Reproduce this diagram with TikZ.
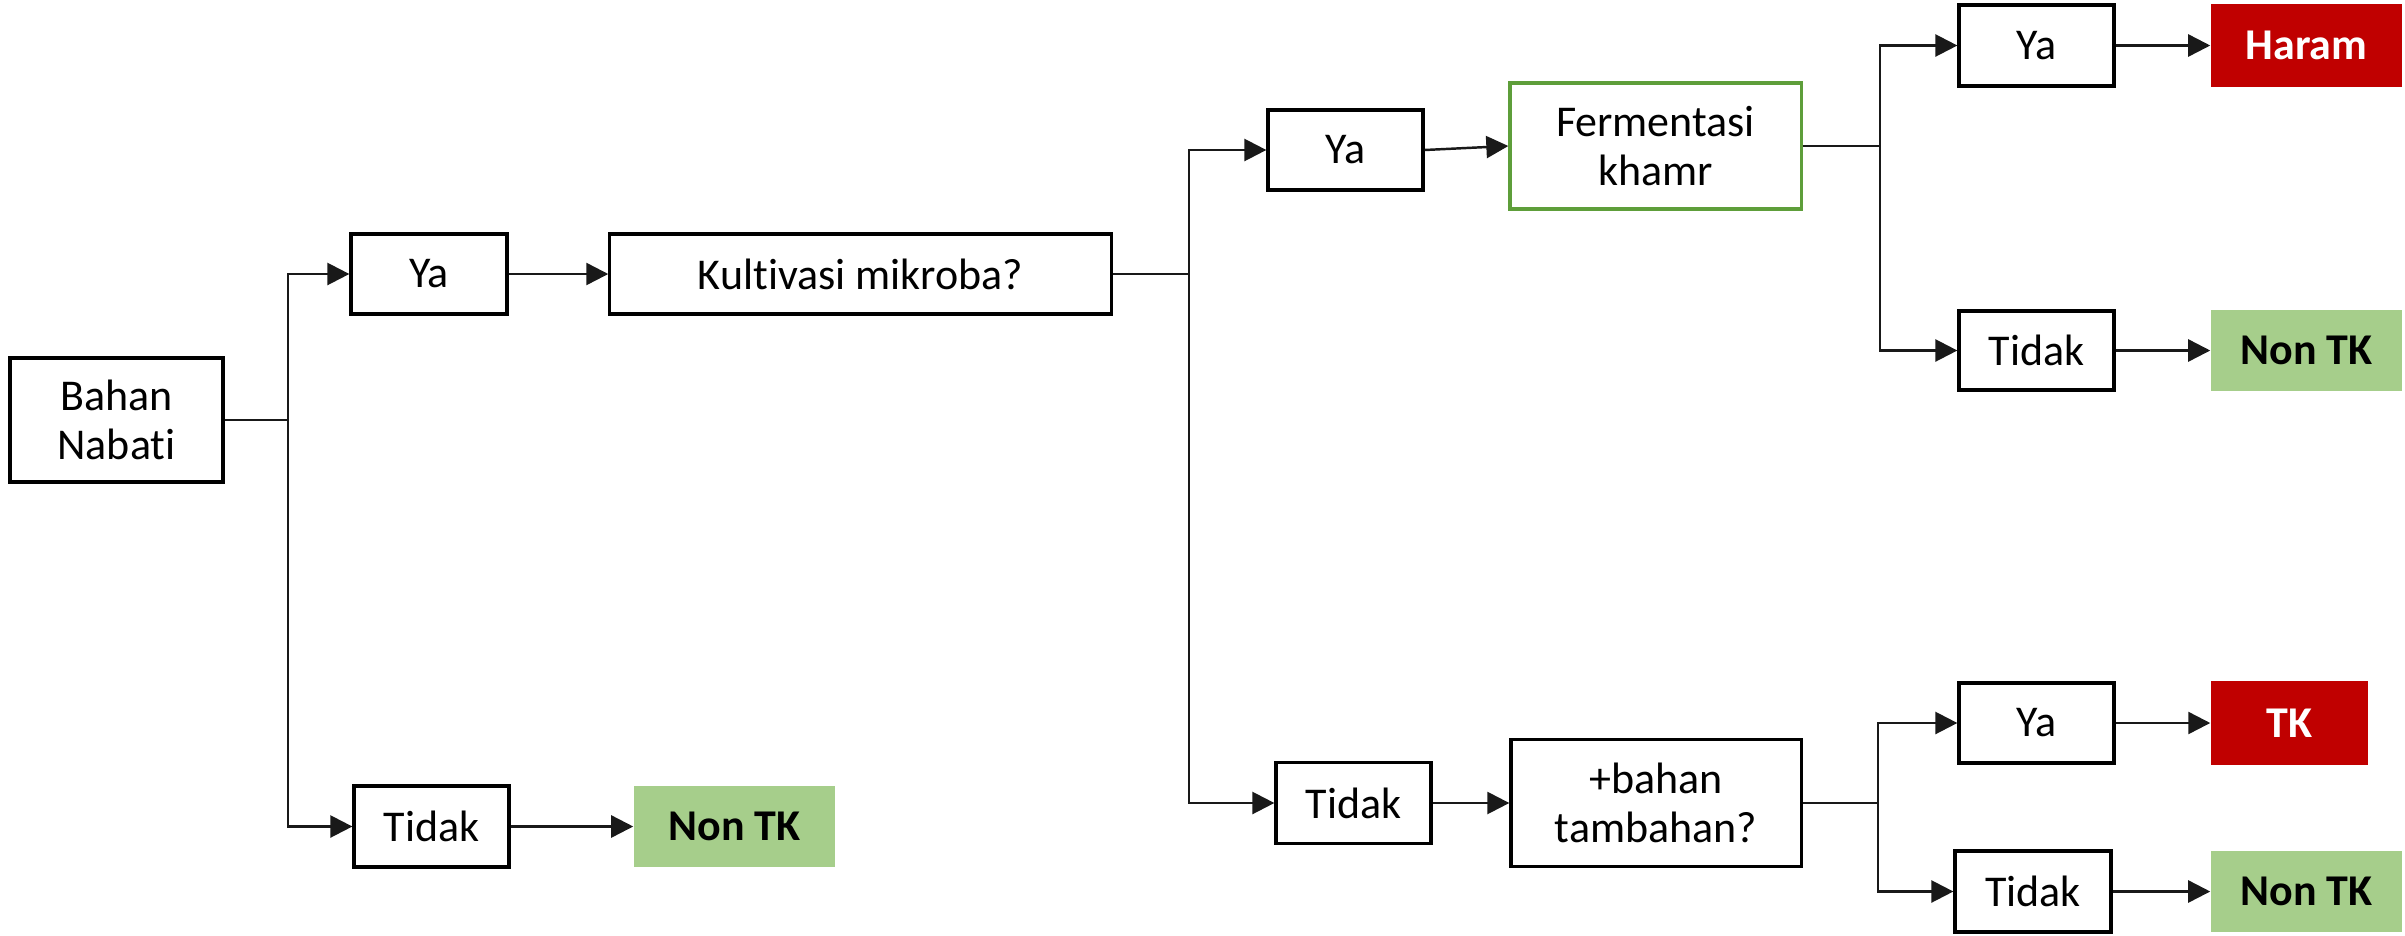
\documentclass[tikz,border=0pt]{standalone}
\usepackage{fontspec}
\setmainfont[Ligatures={NoCommon}]{Carlito}
\usetikzlibrary{arrows.meta}
\definecolor{redbox}{HTML}{C00000}
\definecolor{greenbox}{HTML}{A6CE8B}
\definecolor{greenline}{HTML}{5E9E3A}
\tikzset{
  box/.style={draw=black, line width=0.9pt, fill=white, align=center, inner sep=0pt,
    font=\fontsize{12.5}{13.8}\selectfont},
  redres/.style={fill=redbox, draw=none, text=white, align=center, inner sep=0pt,
    font=\fontsize{12.5}{13.8}\selectfont\bfseries},
  greenres/.style={fill=greenbox, draw=none, text=black, align=center, inner sep=0pt,
    font=\fontsize{12.5}{13.8}\selectfont\bfseries},
  link/.style={line width=0.7pt, draw=black!90},
  arr/.style={link, -{Triangle[length=0.22cm,width=0.22cm]}}
}
\begin{document}
\begin{tikzpicture}[x=0.01cm, y=-0.01cm]
\useasboundingbox (0,0) rectangle (2405,936);
% nodes
\node[box, minimum width=2.13cm, minimum height=1.24cm] (bahan) at (116.5,420) {Bahan\\Nabati};
\node[box, minimum width=1.56cm, minimum height=0.80cm] (ya1) at (429,274) {Ya};
\node[box, minimum width=5.01cm, minimum height=0.80cm] (kult) at (860.5,274) {Kultivasi mikroba?};
\node[box, minimum width=1.55cm, minimum height=0.81cm] (tidak1) at (431.5,826.5) {Tidak};
\node[greenres, minimum width=2.01cm, minimum height=0.80cm] (nontk1) at (734.5,826.5) {Non TK};
\node[box, minimum width=1.55cm, minimum height=0.80cm] (ya2) at (1345.5,150) {Ya};
\node[box, draw=greenline, minimum width=2.91cm, minimum height=1.26cm] (ferm) at (1655.5,146) {Fermentasi\\khamr};
\node[box, minimum width=1.55cm, minimum height=0.81cm] (tidak2) at (1353.5,803) {Tidak};
\node[box, minimum width=2.90cm, minimum height=1.27cm] (tamb) at (1656,803) {+bahan\\tambahan?};
\node[box, minimum width=1.55cm, minimum height=0.81cm] (ya3) at (2036.5,45.5) {Ya};
\node[redres, minimum width=1.91cm, minimum height=0.83cm] (haram) at (2306.5,45.5) {Haram};
\node[box, minimum width=1.55cm, minimum height=0.79cm] (tidak3) at (2036.5,350.5) {Tidak};
\node[greenres, minimum width=1.91cm, minimum height=0.81cm] (nontk3) at (2306.5,350.5) {Non TK};
\node[box, minimum width=1.55cm, minimum height=0.80cm] (ya4) at (2036.5,723) {Ya};
\node[redres, minimum width=1.57cm, minimum height=0.83cm] (tk) at (2289.5,723) {TK};
\node[box, minimum width=1.56cm, minimum height=0.81cm] (tidak4) at (2033,891.5) {Tidak};
\node[greenres, minimum width=1.91cm, minimum height=0.80cm] (nontk4) at (2306.5,891.5) {Non TK};
% junctions
\coordinate (j1) at (288,420);
\coordinate (j2) at (1189,274);
\coordinate (j3) at (1880,146);
\coordinate (j4) at (1878,803);
% connectors
\draw[link] (bahan.east) -- (j1);
\draw[arr] (j1) |- (ya1.west);
\draw[arr] (j1) |- (tidak1.west);
\draw[arr] (ya1) -- (kult);
\draw[arr] (tidak1) -- (nontk1);
\draw[link] (kult.east) -- (j2);
\draw[arr] (j2) |- (ya2.west);
\draw[arr] (j2) |- (tidak2.west);
\draw[arr] (ya2.east) -- (ferm.west);
\draw[arr] (tidak2) -- (tamb);
\draw[link] (ferm.east) -- (j3);
\draw[arr] (j3) |- (ya3.west);
\draw[arr] (j3) |- (tidak3.west);
\draw[arr] (ya3) -- (haram);
\draw[arr] (tidak3) -- (nontk3);
\draw[link] (tamb.east) -- (j4);
\draw[arr] (j4) |- (ya4.west);
\draw[arr] (j4) |- (tidak4.west);
\draw[arr] (ya4) -- (tk);
\draw[arr] (tidak4) -- (nontk4);
\end{tikzpicture}
\end{document}
